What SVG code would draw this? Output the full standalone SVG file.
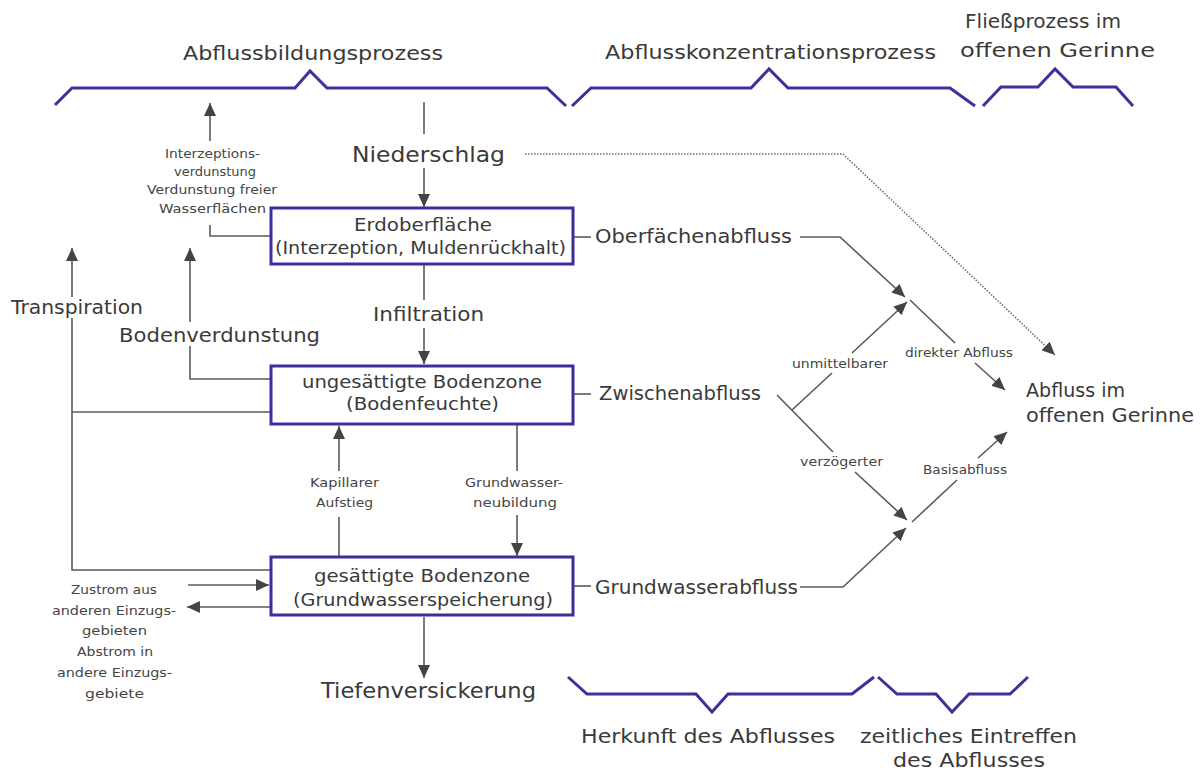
<svg xmlns="http://www.w3.org/2000/svg" width="1204" height="771" viewBox="0 0 1204 771">
<style>
text{font-family:"DejaVu Sans","Liberation Sans",sans-serif;fill:#3a3a3a}
.L{font-size:20px}
.M{font-size:19px}
.B{font-size:17px}
.S{font-size:13px;fill:#454545}
.brace{fill:none;stroke:#3b329a;stroke-width:3;stroke-linejoin:miter}
.box{fill:#fff;stroke:#3b2f9c;stroke-width:3}
.c{fill:none;stroke:#5a5a5a;stroke-width:1.6}
.a{marker-end:url(#ah)}
.dot{fill:none;stroke:#707070;stroke-width:1.6;stroke-dasharray:1.5 1.5;marker-end:url(#ah)}
</style>
<defs>
<marker id="ah" markerUnits="userSpaceOnUse" markerWidth="14" markerHeight="12" refX="13" refY="6" orient="auto">
<path d="M0,0 L13,6 L0,12 z" fill="#444"/>
</marker>
</defs>
<rect width="1204" height="771" fill="#fff"/>

<g id="braces">
<path class="brace" d="M55 105 L72 88 H295 L310 71 L327 88 H547 L566 106"/>
<path class="brace" d="M572 106 L591 88 H751 L769 69 L788 88 H950 L975 106"/>
<path class="brace" d="M983 106 L1001 87 H1038 L1055 69 L1073 87 H1116 L1133 106"/>
<path class="brace" d="M568 677 L587 694 H696 L712 712 L728 694 H852 L874 677"/>
<path class="brace" d="M878 677 L897 694 H936 L952 712 L969 694 H1010 L1028 677"/>
</g>

<g id="headings">
<text class="L" x="183" y="60" textLength="260" lengthAdjust="spacingAndGlyphs">Abflussbildungsprozess</text>
<text class="L" x="605" y="59" textLength="331" lengthAdjust="spacingAndGlyphs">Abflusskonzentrationsprozess</text>
<text class="L" x="965" y="28" textLength="156" lengthAdjust="spacingAndGlyphs">Fließprozess im</text>
<text class="L" x="960" y="57" textLength="195" lengthAdjust="spacingAndGlyphs">offenen Gerinne</text>
<text class="L" x="581" y="743" textLength="254" lengthAdjust="spacingAndGlyphs">Herkunft des Abflusses</text>
<text class="L" x="860" y="743" textLength="217" lengthAdjust="spacingAndGlyphs">zeitliches Eintreffen</text>
<text class="L" x="893" y="767" textLength="152" lengthAdjust="spacingAndGlyphs">des Abflusses</text>
</g>

<g id="connectors">
<path class="c" d="M424 102 V134"/>
<path class="c a" d="M424 168 V207"/>
<path class="dot" d="M525 154 H843 L1055 355"/>
<path class="c" d="M270 236 H210 V225"/>
<path class="c a" d="M210 141 V103"/>
<path class="c" d="M270 379 H190 V346"/>
<path class="c a" d="M190 322 V248"/>
<path class="c" d="M270 570 H72 V318"/>
<path class="c a" d="M72 297 V248"/>
<path class="c" d="M72 412 H270"/>
<path class="c" d="M424 265 V300"/>
<path class="c a" d="M424 328 V364"/>
<path class="c" d="M339 556 V517"/>
<path class="c a" d="M339 471 V426"/>
<path class="c" d="M517 425 V471"/>
<path class="c a" d="M517 515 V556"/>
<path class="c a" d="M188 585 H269"/>
<path class="c a" d="M270 607 H187"/>
<path class="c a" d="M424 617 V678"/>
<path class="c" d="M573 237 H591"/>
<path class="c a" d="M800 237 H840 L905 297"/>
<path class="c" d="M573 394 H591"/>
<path class="c" d="M777 395 L833 452"/>
<path class="c a" d="M855 472 L907 520"/>
<path class="c" d="M792 410 L832 373"/>
<path class="c a" d="M852 353 L907 302"/>
<path class="c" d="M573 586 H591"/>
<path class="c a" d="M800 587 H843 L906 528"/>
<path class="c" d="M910 300 L955 343"/>
<path class="c a" d="M975 363 L1005 390"/>
<path class="c" d="M912 522 L957 480"/>
<path class="c a" d="M978 458 L1007 432"/>
</g>

<g id="node-erdoberflaeche">
<rect class="box" x="271" y="208" width="302" height="56"/>
<text class="B" x="354" y="231" textLength="138" lengthAdjust="spacingAndGlyphs">Erdoberfläche</text>
<text class="B" x="275" y="254" textLength="291" lengthAdjust="spacingAndGlyphs">(Interzeption, Muldenrückhalt)</text>
</g>
<g id="node-ungesaettigt">
<rect class="box" x="271" y="366" width="302" height="58"/>
<text class="B" x="302" y="388" textLength="240" lengthAdjust="spacingAndGlyphs">ungesättigte Bodenzone</text>
<text class="B" x="346" y="410" textLength="153" lengthAdjust="spacingAndGlyphs">(Bodenfeuchte)</text>
</g>
<g id="node-gesaettigt">
<rect class="box" x="271" y="557" width="302" height="58"/>
<text class="B" x="314" y="582" textLength="216" lengthAdjust="spacingAndGlyphs">gesättigte Bodenzone</text>
<text class="B" x="293" y="606" textLength="260" lengthAdjust="spacingAndGlyphs">(Grundwasserspeicherung)</text>
</g>

<g id="node-niederschlag"><text style="font-size:22px" x="352" y="162" textLength="153" lengthAdjust="spacingAndGlyphs">Niederschlag</text></g>
<g id="node-interzeption">
<text class="S" x="165" y="158" textLength="95" lengthAdjust="spacingAndGlyphs">Interzeptions-</text>
<text class="S" x="174" y="176" textLength="82" lengthAdjust="spacingAndGlyphs">verdunstung</text>
<text class="S" x="147" y="194" textLength="130" lengthAdjust="spacingAndGlyphs">Verdunstung freier</text>
<text class="S" x="159" y="213" textLength="107" lengthAdjust="spacingAndGlyphs">Wasserflächen</text>
</g>
<g id="node-transpiration"><text class="L" x="11" y="314" textLength="132" lengthAdjust="spacingAndGlyphs">Transpiration</text></g>
<g id="node-bodenverdunstung"><text class="L" x="119" y="342" textLength="201" lengthAdjust="spacingAndGlyphs">Bodenverdunstung</text></g>
<g id="node-infiltration"><text class="L" x="373" y="321" textLength="111" lengthAdjust="spacingAndGlyphs">Infiltration</text></g>
<g id="node-kapillar">
<text class="S" x="310" y="487" textLength="69" lengthAdjust="spacingAndGlyphs">Kapillarer</text>
<text class="S" x="316" y="507" textLength="57" lengthAdjust="spacingAndGlyphs">Aufstieg</text>
</g>
<g id="node-neubildung">
<text class="S" x="465" y="487" textLength="98" lengthAdjust="spacingAndGlyphs">Grundwasser-</text>
<text class="S" x="473" y="507" textLength="84" lengthAdjust="spacingAndGlyphs">neubildung</text>
</g>
<g id="node-zustrom">
<text class="S" x="71" y="594" textLength="86" lengthAdjust="spacingAndGlyphs">Zustrom aus</text>
<text class="S" x="52" y="615" textLength="124" lengthAdjust="spacingAndGlyphs">anderen Einzugs-</text>
<text class="S" x="82" y="635" textLength="65" lengthAdjust="spacingAndGlyphs">gebieten</text>
<text class="S" x="77" y="656" textLength="76" lengthAdjust="spacingAndGlyphs">Abstrom in</text>
<text class="S" x="57" y="677" textLength="115" lengthAdjust="spacingAndGlyphs">andere Einzugs-</text>
<text class="S" x="85" y="698" textLength="59" lengthAdjust="spacingAndGlyphs">gebiete</text>
</g>
<g id="node-tiefen"><text style="font-size:21px" x="321" y="698" textLength="215" lengthAdjust="spacingAndGlyphs">Tiefenversickerung</text></g>
<g id="node-oberflaechenabfluss"><text class="M" x="595" y="243" textLength="197" lengthAdjust="spacingAndGlyphs">Oberfächenabfluss</text></g>
<g id="node-zwischenabfluss"><text class="M" x="599" y="400" textLength="162" lengthAdjust="spacingAndGlyphs">Zwischenabfluss</text></g>
<g id="node-grundwasserabfluss"><text class="M" x="595" y="594" textLength="203" lengthAdjust="spacingAndGlyphs">Grundwasserabfluss</text></g>
<g id="node-labels-right">
<text class="S" x="792" y="368" textLength="96" lengthAdjust="spacingAndGlyphs">unmittelbarer</text>
<text class="S" x="800" y="466" textLength="83" lengthAdjust="spacingAndGlyphs">verzögerter</text>
<text class="S" x="905" y="357" textLength="108" lengthAdjust="spacingAndGlyphs">direkter Abfluss</text>
<text class="S" x="923" y="474" textLength="84" lengthAdjust="spacingAndGlyphs">Basisabfluss</text>
</g>
<g id="node-abfluss-gerinne">
<text class="M" x="1026" y="397" textLength="99" lengthAdjust="spacingAndGlyphs">Abfluss im</text>
<text class="M" x="1026" y="422" textLength="168" lengthAdjust="spacingAndGlyphs">offenen Gerinne</text>
</g>
</svg>
